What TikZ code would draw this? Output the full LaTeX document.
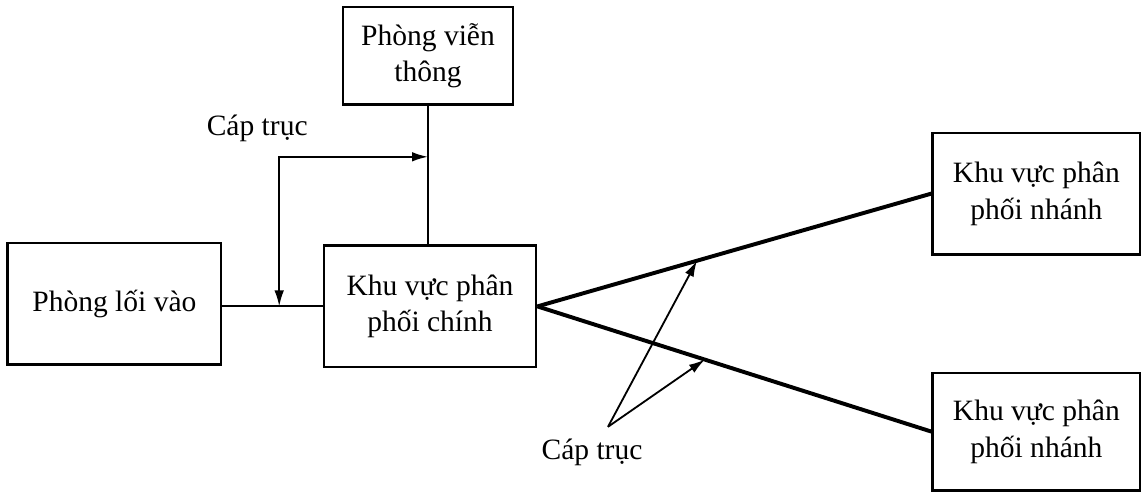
\documentclass[tikz,border=0pt]{standalone}
\usepackage{fontspec}
\setmainfont{Liberation Serif}
\usetikzlibrary{arrows.meta}

\begin{document}
\begin{tikzpicture}[
    font=\fontsize{21}{26}\selectfont,
    >={Latex[length=4mm,width=2.4mm]},
    roombox/.style={draw, line width=2pt, align=center, inner sep=0pt},
    link/.style={line width=1.3pt},
    trunk/.style={line width=2.8pt}
  ]
  \useasboundingbox (0,0) rectangle (28.65,12.35);

  % rooms
  \node[roombox, minimum width=4.25cm, minimum height=2.43cm] (vienthong) at (10.7,10.96) {Phòng viễn\\thông};
  \node[roombox, minimum width=5.33cm, minimum height=3.03cm] (loivao) at (2.86,4.76) {Phòng lối vào};
  \node[roombox, minimum width=5.3cm, minimum height=3.03cm] (chinh) at (10.75,4.69) {Khu vực phân\\phối chính};
  \node[roombox, minimum width=5.18cm, minimum height=3.03cm] (nhanh1) at (25.91,7.51) {Khu vực phân\\phối nhánh};
  \node[roombox, minimum width=5.18cm, minimum height=2.93cm] (nhanh2) at (25.91,1.56) {Khu vực phân\\phối nhánh};

  % plain links
  \draw[link] (vienthong.south) -- (vienthong.south |- chinh.north);
  \draw[link] (chinh.west -| loivao.east) -- (chinh.west);

  % backbone to the branch areas
  \draw[trunk] (chinh.east) -- coordinate[pos=0.405] (upcab) (nhanh1.west);
  \draw[trunk] (chinh.east) -- coordinate[pos=0.425] (lowcab) (nhanh2.west);

  % upper cable label
  \coordinate (corner) at (6.98,8.43);
  \node (capA) at (6.43,9.15) {Cáp trục};
  \draw[link, <->] (corner -| vienthong.south) -- (corner) -- (corner |- chinh.west);

  % lower cable label
  \coordinate (fork) at (15.2,1.68);
  \node (capB) at (14.8,1.03) {Cáp trục};
  \draw[link, ->] (fork) -- (upcab);
  \draw[link, ->] (fork) -- (lowcab);
\end{tikzpicture}
\end{document}
